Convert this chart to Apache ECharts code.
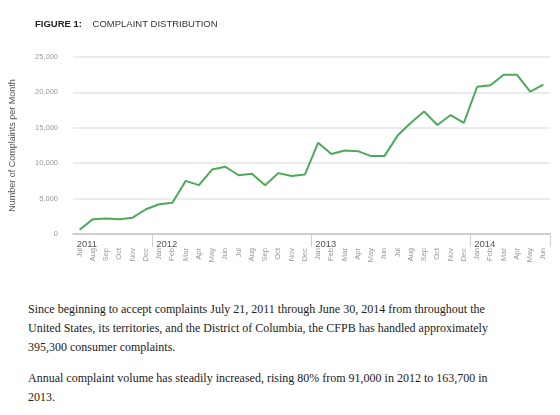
<!DOCTYPE html>
<html>
<head>
  <meta charset="utf-8">
  <title>Complaint distribution</title>
  <script src="https://cdn.jsdelivr.net/npm/echarts@6/dist/echarts.min.js"></script>
  <style>
    body { margin: 0; padding: 0; background: #fff; }
    .page { position: relative; width: 560px; height: 415px; overflow: hidden; }
    #main { position: absolute; left: 0; top: 0; width: 560px; height: 280px; }
    .copy {
      position: absolute; left: 28px; white-space: nowrap;
      font-family: "Liberation Serif", "DejaVu Serif", serif;
      font-size: 12px; line-height: 19px; color: #222;
    }
  </style>
</head>
<body>
<div class="page">
  <div id="main"></div>
  <div class="copy" style="top:300px">Since beginning to accept complaints July 21, 2011 through June 30, 2014 from throughout the<br>United States, its territories, and the District of Columbia, the CFPB has handled approximately<br>395,300 consumer complaints.</div>
  <div class="copy" style="top:369px">Annual complaint volume has steadily increased, rising 80% from 91,000 in 2012 to 163,700 in<br>2013.</div>
</div>
<script>
  // months Jul 2011 .. Jun 2014
  const months = [
    'Jul', 'Aug', 'Sep', 'Oct', 'Nov', 'Dec',
    'Jan', 'Feb', 'Mar', 'Apr', 'May', 'Jun', 'Jul', 'Aug', 'Sep', 'Oct', 'Nov', 'Dec',
    'Jan', 'Feb', 'Mar', 'Apr', 'May', 'Jun', 'Jul', 'Aug', 'Sep', 'Oct', 'Nov', 'Dec',
    'Jan', 'Feb', 'Mar', 'Apr', 'May', 'Jun',
  ];
  const complaints = [
    600, 2100, 2200, 2100, 2300, 3500,
    4200, 4400, 7500, 6900, 9100, 9500, 8300, 8500, 6900, 8600, 8200, 8400,
    12900, 11300, 11800, 11700, 11000, 11000, 13900, 15700, 17300, 15400, 16800, 15700,
    20800, 21000, 22500, 22500, 20100, 21100,
  ];
  const years = ['2011', '2012', '2013', '2014'];
  const yearStart = [0, 6, 18, 30];
  const yMin = 0, yMax = 25000, yStep = 5000;

  const yearRow = months.map(() => '');
  yearStart.forEach((idx, i) => { yearRow[idx] = years[i]; });

  const chart = echarts.init(document.getElementById('main'));
  chart.setOption({
    animation: false,
    title: {
      left: 30,
      top: 14,
      text: '{b|FIGURE 1:}    COMPLAINT DISTRIBUTION',
      textStyle: {
        fontFamily: 'Liberation Sans',
        fontSize: 9.5,
        fontWeight: 'normal',
        color: '#333',
        rich: {
          b: { fontFamily: 'Liberation Sans', fontSize: 9.5, fontWeight: 'bold', color: '#222' },
        },
      },
    },
    grid: { left: 70, right: 10, top: 57, bottom: 46 },
    xAxis: [
      {
        type: 'category',
        data: months,
        boundaryGap: true,
        axisLine: { lineStyle: { color: '#c4c4c4', width: 1.5 } },
        axisTick: { show: false },
        axisLabel: {
          interval: 0,
          rotate: 90,
          margin: 14,
          fontFamily: 'Liberation Sans',
          fontSize: 7.5,
          color: '#999',
        },
      },
      {
        type: 'category',
        position: 'bottom',
        data: yearRow,
        boundaryGap: true,
        axisLine: { show: false },
        axisTick: {
          show: true,
          alignWithLabel: false,
          length: 13,
          interval: (i) => i > 0 && yearRow[i] !== '',
          lineStyle: { color: '#cfcfcf', width: 1 },
        },
        axisLabel: {
          interval: 0,
          align: 'left',
          margin: 5,
          padding: [0, 0, 0, -3],
          fontFamily: 'Liberation Sans',
          fontSize: 9.5,
          color: '#555',
        },
      },
    ],
    yAxis: {
      type: 'value',
      min: yMin,
      max: yMax,
      interval: yStep,
      name: 'Number of Complaints per Month',
      nameLocation: 'middle',
      nameGap: 56,
      nameTextStyle: { fontFamily: 'Liberation Sans', fontSize: 9, color: '#555' },
      axisLine: { show: false },
      axisTick: { show: false },
      axisLabel: {
        margin: 15,
        fontFamily: 'Liberation Sans',
        fontSize: 7.5,
        color: '#999',
        formatter: (v) => v.toLocaleString('en-US'),
      },
      splitLine: { lineStyle: { color: '#e4e4e4', width: 1.5 } },
    },
    series: [
      {
        type: 'line',
        data: complaints,
        xAxisIndex: 0,
        symbol: 'none',
        lineStyle: { color: '#4caa58', width: 2 },
      },
    ],
  });
</script>
</body>
</html>
